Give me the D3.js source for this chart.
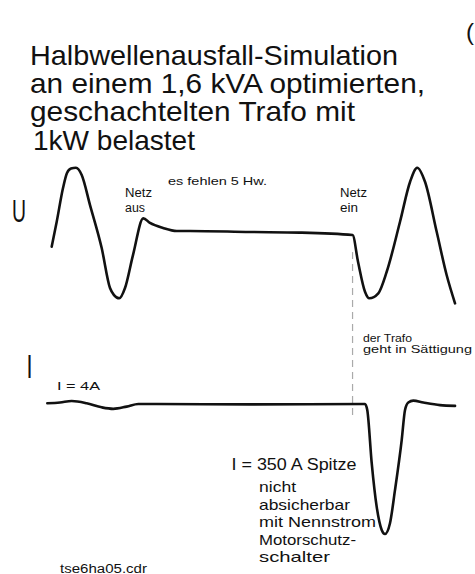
<!DOCTYPE html>
<html>
<head>
<meta charset="utf-8">
<script src="https://cdn.jsdelivr.net/npm/d3@7"></script>
<style>
  html, body { margin: 0; padding: 0; background: #fff; overflow: hidden; }
  svg { display: block; }
  text { font-family: "Liberation Sans", Arial, sans-serif; fill: #111; }
</style>
</head>
<body>
<svg id="chart" width="475" height="574"></svg>
<script>
// ---------- DATA ----------
// Voltage trace U (time in ms, value in V)
const voltageT = [0.17, 1.36, 2.86, 3.81, 4.76, 5.95, 7.31, 9.29, 12.07, 14.05, 15.0, 16.26, 17.62, 19.52, 21.98,
                  23.57, 26.67, 29.93, 33.1, 47.4, 59.3, 71.8,
                  73.1, 74.76, 75.79, 77.93, 79.93, 83.1, 85.5, 87.2, 89.05, 91.83, 94.2, 96.2];
const voltageV = [-68, 56, 224, 299, 321, 325, 289, 139, -75, -274, -309, -325, -274, -110, 73,
                  50, 25, 10, 10, 5, 2, -10,
                  -143, -292, -325, -300, -193, 56, 255, 325, 255, 6, -209, -350];

// Current trace I (time in ms, value in A)
const currentT = [-0.88, 2.14, 4.93, 8.5, 12.07, 14.83, 18.02, 20.79, 25.17, 47.4, 74.76,
                  75.3, 76.36, 77.55, 78.74, 79.52, 80.71, 81.9, 83.5, 84.29, 85.07, 86.26, 88.64, 92.62, 96.2];
const currentI = [2, 4, 8, 2, -9, -13, -7, 0, 0, -1, 0,
                  -16, -159, -277, -339, -350, -321, -232, -97, -16, 4, 9, 4, -3, -5];

// Switching instant (Netz ein)
const netzEinT = 71.8;

// Texts
const titleLines = ["Halbwellenausfall-Simulation", "an einem 1,6 kVA optimierten,",
                    "geschachtelten Trafo mit", "1kW belastet"];
const noteLines = ["nicht", "absicherbar", "mit Nennstrom", "Motorschutz-", "schalter"];

// ---------- SCALES ----------
const svg = d3.select("#chart");
const x = d3.scaleLinear().domain([0, 100]).range([51, 471]);
const yU = d3.scaleLinear().domain([-325, 325]).range([298.3, 167.7]);
const yI = d3.scaleLinear().domain([-350, 0]).range([534, 404]);

const curve = d3.curveMonotoneX;

// ---------- TITLE ----------
const titleW = [368, 395, 325, 162];
const titleX = [30, 30, 30, 33];
titleLines.forEach((t, i) => {
  svg.append("text")
    .attr("x", titleX[i]).attr("y", 65 + i * 28.2)
    .attr("font-size", 28)
    .attr("textLength", titleW[i]).attr("lengthAdjust", "spacingAndGlyphs")
    .text(t);
});

// fragment at right edge
svg.append("text").attr("x", 466).attr("y", 40).attr("font-size", 24).text("(");

// ---------- AXIS LABELS ----------
svg.append("text").attr("x", 12).attr("y", 221.5).attr("font-size", 31)
  .attr("textLength", 14).attr("lengthAdjust", "spacingAndGlyphs").attr("font-weight", 300).text("U");
svg.append("text").attr("x", 26.5).attr("y", 378).attr("font-size", 34)
  .attr("textLength", 6).attr("lengthAdjust", "spacingAndGlyphs").text("I");

// ---------- DASHED SWITCH LINE ----------
svg.append("line")
  .attr("x1", x(netzEinT)).attr("x2", x(netzEinT))
  .attr("y1", yU(-95)).attr("y2", yI(-38))
  .attr("stroke", "#aaa").attr("stroke-width", 1.2)
  .attr("stroke-dasharray", "7,5");

// ---------- TRACES ----------
const uData = voltageT.map((t, i) => [t, voltageV[i]]);
const iData = currentT.map((t, i) => [t, currentI[i]]);

svg.append("path")
  .attr("d", d3.line().x(d => x(d[0])).y(d => yU(d[1])).curve(curve)(uData))
  .attr("fill", "none").attr("stroke", "#111").attr("stroke-width", 2.6)
  .attr("stroke-linejoin", "round").attr("stroke-linecap", "round");

svg.append("path")
  .attr("d", d3.line().x(d => x(d[0])).y(d => yI(d[1])).curve(curve)(iData))
  .attr("fill", "none").attr("stroke", "#111").attr("stroke-width", 2.6)
  .attr("stroke-linejoin", "round").attr("stroke-linecap", "round");

// ---------- ANNOTATIONS ----------
function label(tx, ty, str, size, w) {
  const el = svg.append("text").attr("x", tx).attr("y", ty).attr("font-size", size)
    .attr("fill", "#222").text(str);
  if (w) el.attr("textLength", w).attr("lengthAdjust", "spacingAndGlyphs");
  return el;
}
label(125, 197, "Netz", 12, 27);
label(125, 212, "aus", 12, 20);
label(168, 185, "es fehlen 5 Hw.", 11.5, 99);
label(340, 197, "Netz", 12, 27);
label(340, 212, "ein", 12, 18);
label(363, 341.5, "der Trafo", 10.5, 49);
label(363, 353, "geht in Sättigung", 10.5, 109);
label(57, 390, "I = 4A", 11.5, 43);
label(231.5, 470, "I = 350 A Spitze", 16, 125);
const noteW = [37, 91, 117, 97, 71];
const noteY = [491.7, 510, 526.5, 545, 561.7];
noteLines.forEach((t, i) => label(259, noteY[i], t, 15, noteW[i]));
label(60, 572.5, "tse6ha05.cdr", 12, 87);
</script>
</body>
</html>
